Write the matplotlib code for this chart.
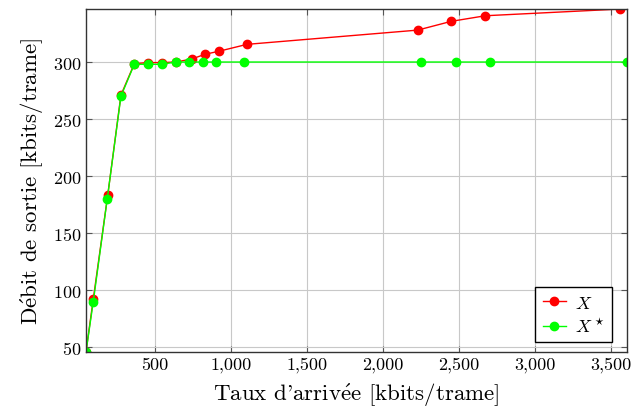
import matplotlib
matplotlib.use("Agg")
import matplotlib.pyplot as plt
from matplotlib.ticker import FuncFormatter

# data
x_red = [46, 94, 189, 276, 364, 454, 544, 636, 741, 829, 919, 1105, 2228, 2449, 2673, 3561]
y_red = [45.6, 92, 183, 271, 298.5, 299.5, 299.5, 300, 302.6, 306.8, 309.4, 315.5, 328, 335.7, 340.6, 346.5]
x_green = [46, 94, 186, 276, 364, 454, 544, 636, 724, 814, 903, 1083, 2252, 2480, 2706, 3605]
y_green = [45.6, 89.7, 180, 270, 298, 298, 298, 300, 300, 300, 300, 300, 300, 300, 300, 300]

x_ticks = [500, 1000, 1500, 2000, 2500, 3000, 3500]
y_ticks = [50, 100, 150, 200, 250, 300]

plt.rcParams["font.family"] = ["cmr10", "DejaVu Serif"]
plt.rcParams["mathtext.fontset"] = "cm"
plt.rcParams["axes.formatter.use_mathtext"] = True


def main():
    fig = plt.figure(figsize=(6.34, 4.14), dpi=100)
    ax = fig.add_axes([0.1356, 0.1473, 0.8534, 0.8285])

    ax.plot(x_red, y_red, "-o", color="red", lw=1, ms=6, label=r"$X$")
    ax.plot(x_green, y_green, "-o", color="#00ff00", lw=1, ms=6, label=r"$X^\star$")

    ax.set_xlim(min(x_red + x_green), max(x_red + x_green))
    ax.set_ylim(min(y_red + y_green), max(y_red + y_green))
    ax.set_xticks(x_ticks)
    ax.set_yticks(y_ticks)
    ax.xaxis.set_major_formatter(FuncFormatter(lambda v, p: f"{int(v):,}"))
    ax.grid(True, color="#c8c8c8", lw=0.8)
    ax.set_axisbelow(True)
    ax.tick_params(direction="in", top=True, right=True, labelsize=13, length=4, color="#555555")
    for s in ax.spines.values():
        s.set_linewidth(1.0)
        s.set_color("#333333")

    # cmr10 draws ASCII ' as a curly right quote, like TeX
    ax.set_xlabel(r"Taux d'arriv$\mathrm{\acute{e}}$e [kbits/trame]", fontsize=16.5, labelpad=6)
    ax.set_ylabel(r"D$\mathrm{\acute{e}}$bit de sortie [kbits/trame]", fontsize=16.5, labelpad=5)

    leg = ax.legend(loc="lower right", bbox_to_anchor=(0.972, 0.029), fontsize=13,
                    fancybox=False, framealpha=1, edgecolor="black",
                    handlelength=1.3, handletextpad=0.5, borderaxespad=0,
                    labelspacing=0.3)
    leg.get_frame().set_linewidth(1.0)

    fig.savefig("out.png", dpi=100)
    plt.close(fig)


if __name__ == "__main__":
    main()
